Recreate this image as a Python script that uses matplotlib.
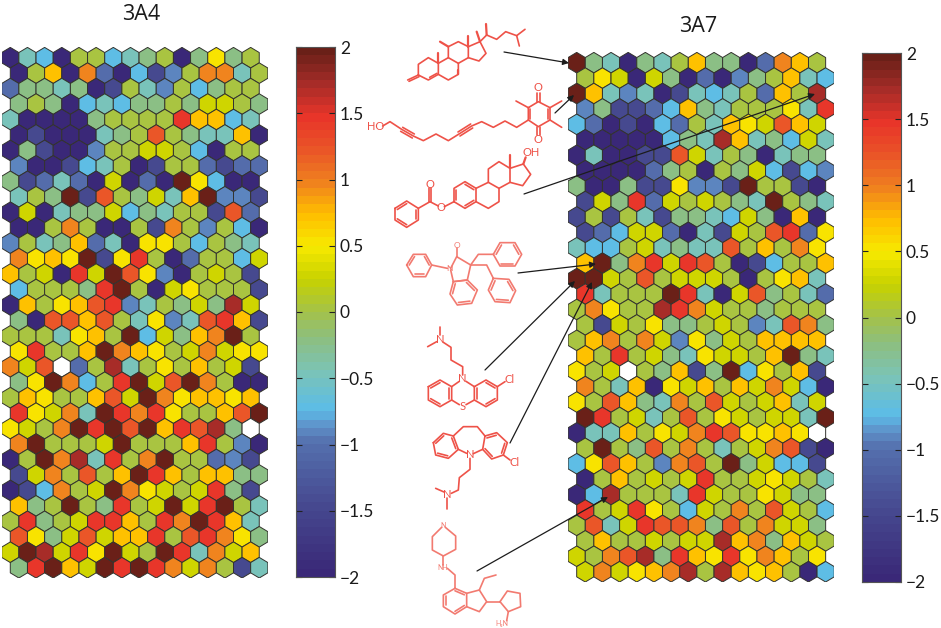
import numpy as np
import matplotlib
matplotlib.use('Agg')
import matplotlib.pyplot as plt
from matplotlib.collections import PolyCollection
from matplotlib.colors import LinearSegmentedColormap

plt.rcParams['font.family'] = ['Lato', 'DejaVu Sans']

# activity level of each map cell
level_values = {'D': -1.95, 'N': -1.45, 'B': -1.05, 'C': -0.88, 'S': -0.75, 'T': -0.45,
                'G': -0.2, 'L': 0.0, 'Y': 0.25, 'U': 0.5, 'A': 0.72, 'O': 0.98,
                'E': 1.2, 'R': 1.45, 'M': 1.72, 'K': 1.95, 'W': np.nan}

rows_3a4 = ['DTSDLLSTGLDGUGL', 'DLADOBDSNCLOOTL', 'BGGTGDNLTCLSGLL', 'GLGDSTSGGLGYYLG',
            'TDDDDGLLLLRAAST', 'DNDDDTGLELGTTAD', 'DGNDDCLLYYLSDLL', 'CDDNSTLDNLLBNBB',
            'GNBTBDYDBDKUSDD', 'TLGKNELGYTAKCCN', 'DYDTGGYSGTLLNEB', 'DDLOLDDLNOLCLSD',
            'CLTGABTDUULSLGT', 'OUAUKNURLDBLLSY', 'ALYDRYKEUCDLYLN', 'SLLLGRKLDYULLLN',
            'DALUAERCTLGYGMY', 'GDEEAELTUCTERAN', 'LLLTUALKSYGAOKL', 'URLLAKOAULYOYUU',
            'OYEWBLMTLULALYN', 'GUKOSLRKYEKOLDD', 'LAULLAEYKOUAAUA', 'RUYOTKRORULLAEK',
            'UYLOKRKEKAREMGW', 'OKLLLYKLLLARLCD', 'DLKOMTRLOKLLBCN', 'NYOLELAKRALAAGG',
            'DNSOLYKOUYLYRGN', 'AGLKLGRLYKYRKLT', 'LRGLYRRALROKRAT', 'EUGYEYAARLEROUG',
            'YKMYRUKYLKRTOYA', 'GRKAYKRKROYOLNT']

rows_3a7 = ['KGTDGTLAGGDBOAL', 'LUYDYGDBDCGLATS', 'KATCTDNTSTLBALM', 'CGNNBSAGTLLLUTR',
            'SBDNDSBLTAUYEAY', 'DDDDDSGTMATGSYT', 'DTDDNNEYTLGDTGG', 'DDDDBGLDLGYSNSC',
            'GDDGNNUCCNKLLND', 'NYGRBYLYLGTKLGT', 'NLNLTNGGTSYGDAD', 'NBSYYBDTNYLERBU',
            'TSSLYTGTTELALOU', 'AKGORYRELDNSLLA', 'KKYLELYYYLDLUAT', 'RTLLLKRTDYEGLTB',
            'LOULLMROYLLGLLL', 'LNYLUGGLYLCTEOG', 'LAOLOYCUGYLAAAA', 'ALRLYGTUYYLAKGT',
            'ULYWLGANGKSULAN', 'OLTADUYALAYOYSD', 'ULEAGTOLEYLYATY', 'KRLYTLELUYLYYTK',
            'DTTALUYOREUUAUW', 'LKLGELOLTLYOEND', 'SUEALCOELKGYSSN', 'DLALYLYRLLYUYLT',
            'DSMLLLTRYLLUYGG', 'RLYRULSYLOLEYLS', 'LETYREEOGELOYYG', 'LALLYLYYMAOGAYL',
            'YLOEMGRAURUOALU', 'YOYUAOMLMAUALDS']

cb_ticks = [2, 1.5, 1, 0.5, 0, -0.5, -1, -1.5, -2]
cb_labels = ['2', '1.5', '1', '0.5', '0', '\u22120.5', '\u22121', '\u22121.5', '\u22122']

anchors = [(-2.0, '#3a2878'), (-1.5, '#46488f'), (-1.0, '#5570ae'), (-0.88, '#5f90c8'),
           (-0.75, '#5cbde8'), (-0.45, '#7cc4b6'), (-0.2, '#8dbf80'), (0.0, '#a4c24a'),
           (0.25, '#c8d200'), (0.5, '#f7ea00'), (0.75, '#ffbe00'), (1.0, '#ef8020'),
           (1.25, '#ea5428'), (1.5, '#e8352a'), (1.75, '#a62c28'), (2.0, '#6a2018')]
cmap = LinearSegmentedColormap.from_list(
    'som', [((v + 2) / 4, c) for v, c in anchors], N=64)
cmap.set_bad('white')

W, H = 941, 628
fig = plt.figure(figsize=(W / 100, H / 100), dpi=100, facecolor='white')


def px_axes(x0, y0, x1, y1, **kw):
    return fig.add_axes([x0 / W, 1 - y1 / H, (x1 - x0) / W, (y1 - y0) / H], **kw)


def hex_map(rows, x0, y0, x1, y1):
    ax = px_axes(x0, y0, x1, y1)
    polys, vals = [], []
    for r, row in enumerate(rows):
        for c, ch in enumerate(row):
            cx = c + 0.5 * (r % 2)
            polys.append([(cx, r - 2 / 3), (cx + .5, r - 1 / 3), (cx + .5, r + 1 / 3),
                          (cx, r + 2 / 3), (cx - .5, r + 1 / 3), (cx - .5, r - 1 / 3)])
            vals.append(level_values[ch])
    pc = PolyCollection(polys, array=np.ma.masked_invalid(vals), cmap=cmap,
                        edgecolors='#33332e', linewidths=0.7)
    pc.set_clim(-2, 2)
    ax.add_collection(pc)
    ax.set_xlim(-0.5, 15)
    ax.set_ylim(len(rows) - 1 + 2 / 3, -2 / 3)
    ax.axis('off')


def colorbar(x0, y0, x1, y1):
    ax = px_axes(x0, y0, x1, y1)
    ax.imshow(np.linspace(2, -2, 64).reshape(-1, 1), cmap=cmap, vmin=-2, vmax=2,
              aspect='auto', extent=[0, 1, -2, 2], interpolation='nearest')
    ax.set_xticks([])
    ax.set_yticks(cb_ticks)
    ax.set_yticklabels(cb_labels)
    ax.yaxis.tick_right()
    ax.tick_params(axis='y', direction='in', left=True, right=True, length=4, width=0.8,
                   color='#222222', labelsize=12.5, labelcolor='#1a1a1a', pad=3.5)
    for s in ax.spines.values():
        s.set_color('#555555')
        s.set_linewidth(0.8)


hex_map(rows_3a4, 1.7, 47.4, 1.7 + 15.5 * 17.17, 578)
hex_map(rows_3a7, 568.1, 52.4, 568.1 + 15.5 * 17.17, 582)
colorbar(296, 47, 335, 577)
colorbar(862, 53, 901, 582)

# overlay in picture pixels for titles, structures and arrows
ov = fig.add_axes([0, 0, 1, 1], zorder=5)
ov.set_xlim(0, W)
ov.set_ylim(H, 0)
ov.axis('off')
ov.patch.set_alpha(0)

ov.text(141, 15, '3A4', ha='center', va='center', fontsize=15.5, color='#1a1a1a',
        family=['Open Sans', 'DejaVu Sans'])
ov.text(698.5, 26, '3A7', ha='center', va='center', fontsize=15.5, color='#1a1a1a',
        family=['Open Sans', 'DejaVu Sans'])

RED = '#ee5248'
LIGHT = '#f27a70'


def chain(origin, pts, color=RED, lw=1.2, closed=False):
    ox, oy = origin
    p = np.array(pts, dtype=float) / 3 + [ox, oy]
    if closed:
        p = np.vstack([p, p[0]])
    ov.plot(p[:, 0], p[:, 1], color=color, lw=lw, solid_capstyle='round')


def ring(origin, pts, doubles=(), color=RED, lw=1.2):
    chain(origin, pts, color, lw, closed=True)
    p = np.array(pts, dtype=float)
    mid = p.mean(axis=0)
    for i in doubles:
        a, b = p[i], p[(i + 1) % len(p)]
        a2 = a + (mid - a) * 0.2
        b2 = b + (mid - b) * 0.2
        chain(origin, [a2, b2], color, lw)


def label(origin, x, y, s, color=RED, size=8):
    ov.text(origin[0] + x / 3, origin[1] + y / 3, s, color=color, fontsize=size,
            ha='center', va='center')


z5 = (360, 20)
z6 = (390, 310)

# corticosteroid
chain(z5, [(175, 165), (175, 133), (205, 113), (235, 130), (235, 163), (205, 180), (175, 165)])
chain(z5, [(209, 172), (231, 160)])
chain(z5, [(143, 180), (175, 165)])
chain(z5, [(147, 184), (177, 170)])
chain(z5, [(235, 163), (265, 180), (295, 163), (295, 130), (265, 113), (235, 130)])
chain(z5, [(265, 113), (265, 80), (295, 65), (325, 80), (325, 113), (295, 130)])
chain(z5, [(325, 80), (360, 65), (378, 100), (357, 123), (325, 113)])
chain(z5, [(360, 65), (380, 45), (410, 58), (437, 35), (470, 47), (495, 28)])
chain(z5, [(470, 47), (478, 78)])
chain(z5, [(380, 45), (378, 12)], lw=1.6)
chain(z5, [(235, 130), (235, 98)], lw=1.6)
chain(z5, [(325, 80), (325, 47)], lw=1.6)
chain(z5, [(265, 80), (240, 65)], lw=1.6)
chain(z5, [(360, 65), (350, 35)], lw=1.6)
chain(z5, [(295, 163), (295, 150)], lw=1.6)

# quinone with diyne tail
label(z5, 46, 320, 'HO')
chain(z5, [(68, 318), (90, 305), (125, 328), (160, 348), (190, 362), (228, 342), (265, 362),
           (297, 342), (335, 318), (365, 305), (400, 322), (435, 303), (470, 322), (505, 300)])
chain(z5, [(122, 334), (157, 354)])
chain(z5, [(128, 322), (163, 342)])
chain(z5, [(294, 336), (332, 312)])
chain(z5, [(300, 348), (338, 324)])
ring(z5, [(505, 263), (535, 245), (570, 263), (570, 300), (535, 320), (505, 300)], doubles=(5, 2))
chain(z5, [(531, 245), (531, 218)])
chain(z5, [(539, 245), (539, 218)])
chain(z5, [(531, 320), (531, 345)])
chain(z5, [(539, 320), (539, 345)])
label(z5, 535, 203, 'O')
label(z5, 535, 358, 'O')
chain(z5, [(505, 263), (468, 243)])
chain(z5, [(570, 263), (605, 243)])
chain(z5, [(570, 300), (605, 322)])

# estradiol benzoate
label(z5, 514, 398, 'OH')
ring(z5, [(105, 565), (140, 543), (175, 565), (175, 600), (140, 622), (105, 600)], doubles=(0, 2, 4))
chain(z5, [(175, 565), (210, 545), (235, 558)])
chain(z5, [(206, 545), (206, 503)])
chain(z5, [(214, 545), (214, 503)])
label(z5, 210, 495, 'O')
label(z5, 243, 562, 'O')
chain(z5, [(253, 560), (282, 545)])
ring(z5, [(282, 545), (282, 505), (315, 485), (348, 505), (348, 545), (315, 565)], doubles=(0, 2, 4))
chain(z5, [(348, 505), (385, 487), (417, 505), (417, 545), (385, 565), (348, 545)])
chain(z5, [(385, 487), (385, 447), (417, 425), (450, 445), (450, 487), (417, 505)])
chain(z5, [(450, 445), (490, 432), (512, 463), (488, 497), (450, 487)])
chain(z5, [(490, 432), (497, 412)], lw=1.6)
chain(z5, [(450, 445), (450, 405)], lw=1.6)

# linopirdine-like
ring(z5, [(140, 735), (160, 703), (197, 703), (215, 735), (197, 770), (160, 770)],
     doubles=(0, 2, 4), color=LIGHT)
chain(z5, [(215, 735), (262, 745)], color=LIGHT)
chain(z5, [(272, 745), (290, 710), (332, 735), (322, 780), (280, 785), (272, 750)], color=LIGHT)
chain(z5, [(290, 710), (290, 685)], color=LIGHT)
label(z5, 290, 675, 'O', color=LIGHT, size=6)
label(z5, 267, 745, 'N', color=LIGHT, size=6)
ring(z5, [(280, 785), (322, 780), (352, 810), (335, 850), (292, 855), (270, 822)],
     doubles=(1, 3, 5), color=LIGHT)
chain(z5, [(332, 735), (355, 703), (400, 703)], color=LIGHT)
ring(z5, [(400, 703), (420, 668), (465, 668), (485, 703), (465, 738), (420, 738)],
     doubles=(0, 2, 4), color=LIGHT)
chain(z5, [(332, 735), (380, 735), (400, 775)], color=LIGHT)
ring(z5, [(400, 775), (385, 810), (405, 845), (450, 848), (467, 812), (447, 778)],
     doubles=(0, 2, 4), color=LIGHT)

# chlorpromazine
label(z6, 150, 88, 'N')
chain(z6, [(150, 52), (150, 76)])
chain(z6, [(113, 110), (140, 95)])
chain(z6, [(160, 97), (183, 112), (183, 150), (218, 170), (218, 195)])
label(z6, 218, 207, 'N')
ring(z6, [(115, 230), (150, 210), (185, 230), (185, 270), (150, 290), (115, 270)], doubles=(0, 2, 4))
chain(z6, [(185, 230), (208, 214)])
chain(z6, [(228, 214), (253, 230)])
chain(z6, [(185, 270), (208, 284)])
chain(z6, [(228, 284), (253, 270)])
label(z6, 218, 290, 'S')
ring(z6, [(253, 230), (288, 210), (322, 230), (322, 270), (288, 290), (253, 270)], doubles=(1, 3, 5))
chain(z6, [(322, 230), (345, 215)])
label(z6, 358, 208, 'Cl')

# clomipramine
ring(z6, [(130, 398), (160, 370), (190, 378), (205, 418), (175, 445), (137, 435)], doubles=(0, 2, 4))
chain(z6, [(190, 378), (220, 350), (262, 350), (285, 378)])
chain(z6, [(278, 418), (250, 431)])
chain(z6, [(230, 430), (205, 418)])
ring(z6, [(285, 378), (320, 368), (352, 398), (340, 435), (305, 447), (278, 418)], doubles=(0, 2, 4))
chain(z6, [(340, 435), (360, 450)])
label(z6, 375, 458, 'Cl')
label(z6, 240, 433, 'N')
chain(z6, [(240, 445), (240, 478), (208, 503), (205, 540), (184, 550)])
label(z6, 172, 552, 'N')
chain(z6, [(162, 546), (137, 535)])
chain(z6, [(172, 565), (172, 597)])

# bottom structure
chain(z6, [(155, 652), (127, 680), (127, 720), (160, 738), (197, 718), (197, 678), (166, 652)], color=LIGHT)
label(z6, 160, 645, 'N', color=LIGHT, size=5)
chain(z6, [(160, 738), (160, 765)], color=LIGHT)
label(z6, 158, 773, 'NH', color=LIGHT, size=5)
chain(z6, [(172, 775), (195, 795), (195, 835)], color=LIGHT)
ring(z6, [(195, 835), (160, 855), (160, 890), (195, 912), (230, 890), (230, 850)],
     doubles=(1, 3, 5), color=LIGHT)
chain(z6, [(230, 850), (268, 840), (290, 875), (268, 905), (230, 890)], color=LIGHT)
chain(z6, [(268, 840), (283, 805), (318, 795)], color=LIGHT)
chain(z6, [(290, 875), (330, 875)], color=LIGHT)
chain(z6, [(330, 875), (352, 843), (390, 850), (392, 890), (355, 905), (330, 875)], color=LIGHT)
chain(z6, [(355, 905), (350, 932)], color=LIGHT)
label(z6, 335, 940, 'H\u2082N', color=LIGHT, size=5)

# arrows from each structure to its map cell
arrow_tails = [(504, 52), (555, 113), (524, 194), (518, 273), (485, 370), (510, 443), (477, 571)]
arrow_tips = [(569, 63), (574, 95), (815, 94), (596, 264), (575, 281), (592, 282), (608, 497)]
for tail, tip in zip(arrow_tails, arrow_tips):
    ov.annotate('', xy=tip, xytext=tail,
                arrowprops=dict(arrowstyle='-|>', color='#1c1c1c', lw=0.9, mutation_scale=9,
                                shrinkA=0, shrinkB=0))

fig.savefig('out.png', dpi=100)
